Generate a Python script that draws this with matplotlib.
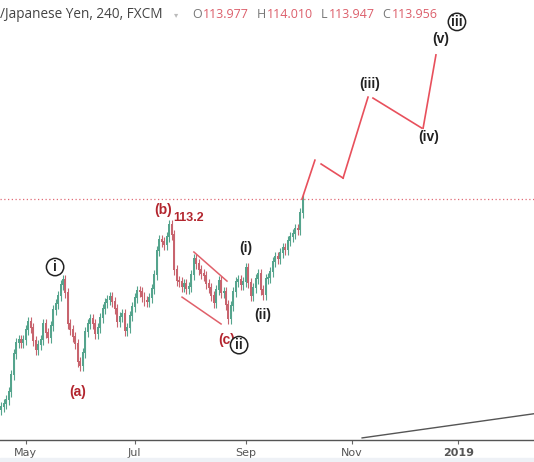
import numpy as np
import matplotlib
matplotlib.use('Agg')
import matplotlib.pyplot as plt

# ---------- Data ------------------------------------------------------------------------------------------------------

start_day = '2018-04-16'                       # first bar of the chart

closes = [107.36, 107.46, 107.55, 107.67, 107.92, 108.46, 109.11, 109.46, 109.55, 109.46,
          109.55, 109.86, 110.11, 109.92, 109.52, 109.24, 109.39, 109.55, 110.05, 109.77,
          109.61, 109.99, 110.49, 110.67, 110.92, 111.27, 111.42, 111.02, 110.05, 109.86,
          109.64, 109.42, 108.86, 108.74, 109.14, 109.80, 110.05, 110.21, 110.05, 109.74,
          109.92, 110.24, 110.52, 110.71, 110.80, 110.89, 110.74, 110.52, 110.11, 110.27,
          110.36, 109.83, 109.92, 110.30, 110.58, 110.86, 111.08, 111.05, 110.89, 110.77,
          110.74, 110.86, 111.14, 111.58, 112.33, 112.67, 112.61, 112.52, 112.77, 113.14,
          112.83, 111.74, 111.39, 111.36, 111.21, 111.30, 111.14, 111.21, 111.58, 112.08,
          111.92, 111.74, 111.61, 111.55, 111.30, 111.17, 110.92, 110.71, 111.11, 111.39,
          111.02, 111.05, 110.64, 110.21, 110.61, 111.05, 111.36, 111.42, 111.27, 111.36,
          111.80, 111.33, 110.92, 111.17, 111.46, 111.61, 111.11, 110.96, 111.46, 111.49,
          111.68, 111.99, 112.14, 112.08, 112.27, 112.42, 112.36, 112.64, 112.77, 112.86,
          113.02, 112.99, 113.52, 113.956]
first_open = 107.30
last_price = 113.956

# Projected wave path (bar index, price)
proj_segments = [([122.8, 128.0], [113.96, 115.17]),
                 ([130.5, 139.4], [115.05, 114.61]),
                 ([139.4, 149.5], [114.61, 117.14]),
                 ([151.5, 171.3], [117.11, 116.17]),
                 ([171.8, 177.0], [116.17, 118.46])]

# Channel lines around the (c) wave
channel_segments = [([79.0, 92.4], [112.30, 111.39]),
                    ([74.2, 90.0], [110.89, 110.05])]

trend_x = [147.1, 230.0]
trend_y = [106.49, 107.39]

red_labels = [('(a)', 32.1, 107.93), ('(b)', 66.5, 113.61), ('(c)', 92.4, 109.55)]
level_label = ('113.2', 77.0, 113.36)
dark_labels = [('(i)', 100.1, 112.42), ('(ii)', 107.0, 110.33), ('(iii)', 150.3, 117.55),
               ('(iv)', 174.2, 115.89), ('(v)', 179.0, 118.96)]
circled_labels = [('i', 22.8, 111.83), ('ii', 97.3, 109.39), ('iii', 185.5, 119.49)]

tick_dates = ['2018-05-01', '2018-07-01', '2018-09-01', '2018-11-01', '2019-01-01']
tick_labels = ['May', 'Jul', 'Sep', 'Nov', '2019']

header = '/Japanese Yen, 240, FXCM'
ohlc_names = ['O', 'H', 'L', 'C']
ohlc_values = ['113.977', '114.010', '113.947', '113.956']

# ---------- Figure -------------------------------------------------------------------------------------------------------

W, H = 534, 462
fig = plt.figure(figsize=(W / 100, H / 100), dpi=100)
ax = fig.add_axes([0, 22 / H, 1, 440 / H])

up_col = '#55a48d'
down_col = '#c8646e'
wick = 0.16

idx = np.arange(len(closes))
c = np.array(closes)
o = np.concatenate([[first_open], c[:-1]])
cols = [up_col if cc >= oo else down_col for oo, cc in zip(o, c)]
hi = np.maximum(o, c) + wick
lo = np.minimum(o, c) - wick

ax.vlines(idx, lo, hi, colors=cols, lw=0.8, zorder=2)
ax.bar(idx, np.abs(c - o) + 0.03, bottom=np.minimum(o, c), width=0.8, color=cols, lw=0, zorder=3)

# last price line
ax.axhline(last_price, color='#e06b76', lw=0.9, ls=(0, (1, 2)), zorder=1)

for xs, ys in proj_segments:
    ax.plot(xs, ys, color='#e8505c', lw=1.2, zorder=4)
for xs, ys in channel_segments:
    ax.plot(xs, ys, color='#e0606a', lw=1.1, zorder=4)
ax.plot(trend_x, trend_y, color='#555555', lw=1.0, zorder=4)

lab_font = dict(family='Liberation Sans', weight='bold', fontsize=10)
for t, x, y in red_labels:
    ax.text(x, y, t, color='#b3262f', ha='center', va='center', zorder=6, **lab_font)
ax.text(level_label[1], level_label[2], level_label[0], color='#b3262f', ha='center', va='center',
        zorder=6, family='Liberation Sans', weight='bold', fontsize=9)
for t, x, y in dark_labels:
    ax.text(x, y, t, color='#222222', ha='center', va='center', zorder=6, **lab_font)
for t, x, y in circled_labels:
    ax.text(x, y, t, color='#222222', ha='center', va='center', zorder=7,
            bbox=dict(boxstyle='circle,pad=0.12', fc='white', ec='#222222', lw=1.1), **lab_font)

# x axis
base = np.datetime64(start_day)
tick_pos = [np.busday_count(base, np.datetime64(d)) for d in tick_dates]
ax.set_xticks(tick_pos)
ax.set_xticklabels(tick_labels, fontsize=8, color='#555555', family='DejaVu Sans')
ax.get_xticklabels()[-1].set_fontweight('bold')
ax.tick_params(axis='x', length=3, width=0.8, color='#666666', pad=3)
ax.set_yticks([])
ax.set_xlim(0.5, 0.5 + W / 2.47)
ax.set_ylim(last_price - 241 / 32, last_price + 199 / 32)
for s in ['top', 'right', 'left']:
    ax.spines[s].set_visible(False)
ax.spines['bottom'].set_color('#555555')
ax.spines['bottom'].set_linewidth(1.0)

# bottom strip
fig.patches.append(plt.Rectangle((0, 0), 1, 4 / H, transform=fig.transFigure, color='#eef1f6', zorder=0))

# header -- pieces laid out one after the other
hy = 1 - 15 / H
fig.text(0, hy, header, color='#444444', family='Open Sans', fontsize=9.8, va='center')
fig.text(174 / W, hy, '▾', color='#bbbbbb', family='DejaVu Sans', fontsize=6, va='center')

renderer = fig.canvas.get_renderer()
x_px = 192
for letter, val in zip(ohlc_names, ohlc_values):
    t = fig.text(x_px / W, hy, letter, color='#777777', family='Open Sans', fontsize=9, va='center')
    x_px = t.get_window_extent(renderer).x1 + 1
    t = fig.text(x_px / W, hy, val, color='#dc5f6b', family='Open Sans', fontsize=9, va='center')
    x_px = t.get_window_extent(renderer).x1 + 8

fig.savefig('out.png', dpi=100)
